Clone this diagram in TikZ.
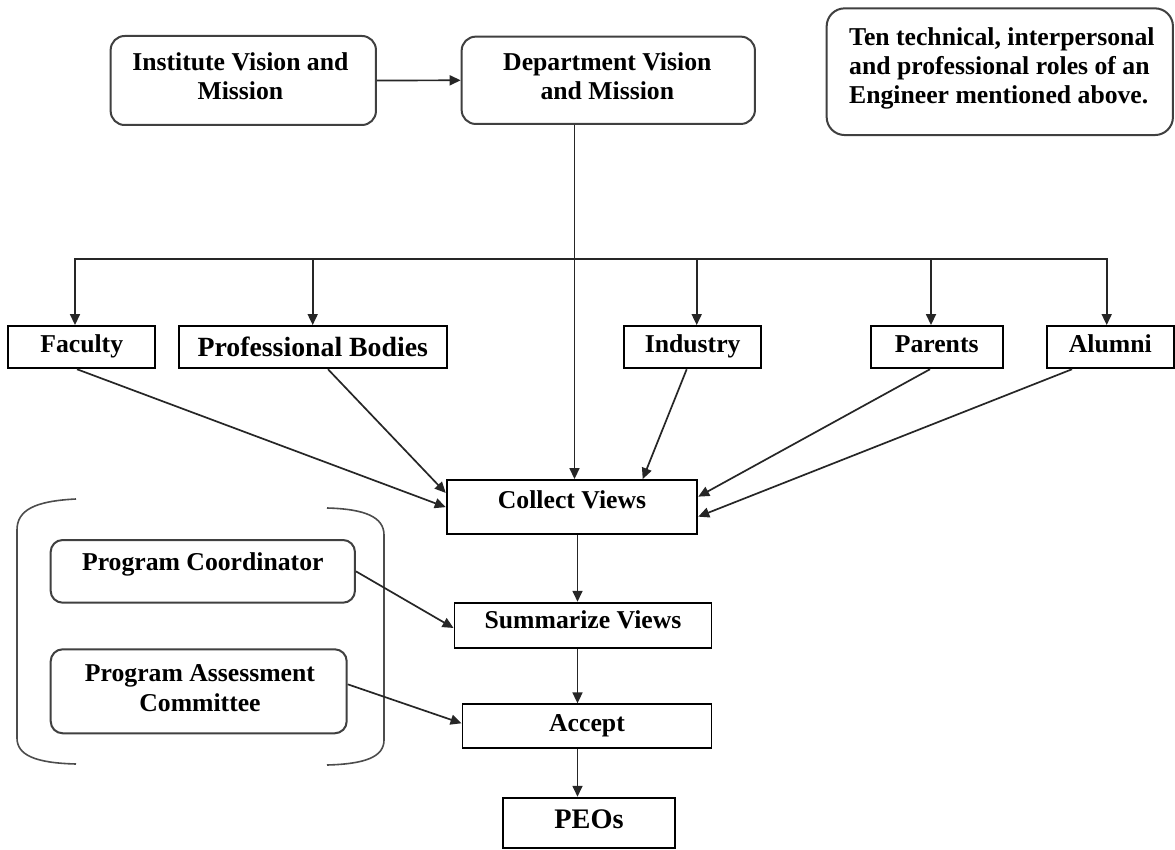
\documentclass[tikz,border=0pt]{standalone}
\usepackage{fontspec}
\setmainfont{Liberation Serif}
\usetikzlibrary{arrows.meta,calc}
\begin{document}
\begin{tikzpicture}[x=1pt,y=-1pt,
  fnt/.style={font=\fontsize{25.7}{29.3}\selectfont\bfseries},
  bigfnt/.style={font=\fontsize{27.8}{30}\selectfont\bfseries},
  rbox/.style={draw=black!75, line width=2pt, rounded corners=14pt, inner sep=0pt},
  sbox/.style={draw=black, line width=1.9pt, inner sep=0pt, fnt, anchor=base},
  txt/.style={fnt, inner sep=0pt, align=center},
  arr/.style={draw=black!85, line width=1.7pt, -{Triangle[length=11pt,width=10pt]}},
  ln/.style={draw=black!85, line width=1.7pt},
  brk/.style={draw=black!70, line width=1.6pt}]
\useasboundingbox (0,0) rectangle (1175,850);
\fill[white] (0,0) rectangle (1175,850);

% top row
\node[rbox, minimum width=265.3pt, minimum height=89pt] (inst) at (243.3,80.5) {};
\node[txt] (instT) at (240.4,76.5) {Institute Vision and\\Mission};
\node[rbox, minimum width=293.3pt, minimum height=87.3pt] (dept) at (608.3,80.3) {};
\node[txt] (deptT) at (607.3,76.5) {Department Vision\\and Mission};
\node[rbox, rounded corners=18pt, minimum width=346.3pt, minimum height=126.7pt] (roles) at (999.8,71.7) {};
\node[fnt, inner sep=0pt, align=left, anchor=north west] (rolesT) at (849,27.3) {Ten technical, interpersonal\\and professional roles of an\\Engineer mentioned above.};

% stakeholders
\node[sbox, minimum width=146.7pt, text height=26pt, text depth=16.3pt] (fac) at (81.7,352) {Faculty};
\node[sbox, bigfnt, minimum width=267.7pt, text height=30pt, text depth=12.3pt] (pb) at (312.8,356) {Professional Bodies};
\node[sbox, minimum width=136.7pt, text height=26pt, text depth=16.3pt] (ind) at (692.7,352) {Industry};
\node[sbox, minimum width=132pt, text height=26pt, text depth=16.3pt] (par) at (936.7,352) {Parents};
\node[sbox, minimum width=127.3pt, text height=26pt, text depth=16.3pt] (alu) at (1110.3,352) {Alumni};

% process chain
\node[sbox, minimum width=250.6pt, text height=28.3pt, text depth=26pt] (cv) at (572,508.3) {Collect Views};
\node[sbox, minimum width=257pt, text height=25.6pt, text depth=20pt] (sum) at (583,628.3) {Summarize Views};
\node[sbox, minimum width=249pt, text height=27.4pt, text depth=16.6pt] (acc) at (587,731.7) {Accept};
\node[sbox, font=\fontsize{28.3}{30}\selectfont\bfseries, minimum width=171.3pt, text height=30.6pt, text depth=20pt] (peo) at (589,828.3) {PEOs};

% committee
\node[rbox, rounded corners=12pt, fnt, anchor=base, minimum width=304.3pt, text height=30pt, text depth=32.7pt] (pc) at (202.8,570) {Program Coordinator};
\node[rbox, rounded corners=12pt, minimum width=296pt, minimum height=84pt] (pac) at (198.7,691.3) {};
\node[txt] (pacT) at (200,688.1) {Program Assessment\\Committee};

% brackets
\draw[brk] (76,499) .. controls (35,501) and (17,510) .. (17,530) -- (17,738) .. controls (17,755) and (35,763) .. (76,764);
\draw[brk] (327,508) .. controls (365,509) and (384,517) .. (384,535) -- (384,740) .. controls (384,757) and (365,764) .. (327,765);

% connectors
\draw[arr] (inst.east) -- (dept.west);
\coordinate (dx) at (574.5,0);
\draw[arr] (dept.south -| dx) -- (cv.north -| dx);

\coordinate (b1) at (75,259.3);
\coordinate (b2) at (312.7,259.3);
\coordinate (b3) at (696.7,259.3);
\coordinate (b4) at (931,259.3);
\coordinate (b5) at (1106.7,259.3);
\draw[ln] (b2) -- (b4);
\draw[arr] (b2) -- (b1) -- (b1 |- fac.north);
\draw[arr] (b4) -- (b5) -- (b5 |- alu.north);
\draw[arr] (b2) -- (b2 |- pb.north);
\draw[arr] (b3) -- (b3 |- ind.north);
\draw[arr] (b4) -- (b4 |- par.north);

\draw[arr] ([xshift=-4.7pt]fac.south) -- (cv.west);
\draw[arr] ([xshift=15.2pt]pb.south) -- ([yshift=14.2pt]cv.west);
\draw[arr] ([xshift=-6pt]ind.south) -- ([xshift=70.7pt]cv.north);
\draw[arr] ([xshift=-6.7pt]par.south) -- ([yshift=10.5pt]cv.east);
\draw[arr] ([xshift=-38.3pt]alu.south) -- ([yshift=-9.5pt]cv.east);

\coordinate (vx) at (577.5,0);
\draw[arr] (cv.south -| vx) -- (sum.north -| vx);
\draw[arr] (sum.south -| vx) -- (acc.north -| vx);
\draw[arr] (acc.south -| vx) -- (peo.north -| vx);

\draw[arr] (pc.east) -- ([yshift=-2.5pt]sum.west);
\draw[arr] ([yshift=7pt]pac.east) -- ([yshift=3pt]acc.west);
\end{tikzpicture}
\end{document}
